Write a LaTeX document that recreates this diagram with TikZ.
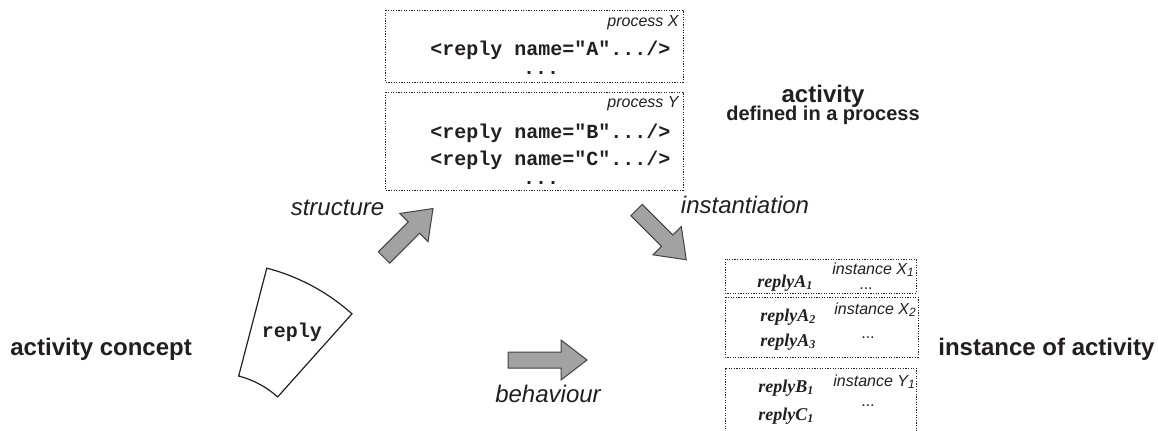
\documentclass[tikz,border=0pt]{standalone}
\usepackage{fontspec}
\setmainfont{Liberation Sans}
\newfontfamily\codefont{Liberation Mono}
\newfontfamily\rfont{Liberation Serif}
\definecolor{ink}{HTML}{231F20}
\definecolor{arrfill}{HTML}{A2A2A2}
\begin{document}
\begin{tikzpicture}[x=0.5pt,y=-0.5pt,
  every node/.style={inner sep=0pt, text=ink},
  dotbox/.style={draw=ink, line width=0.5pt, dash pattern=on 0.6pt off 0.7pt},
  blockarrow/.style={draw=ink!85, line width=0.5pt, fill=arrfill, line join=miter},
  code/.style={font=\codefont\bfseries\fontsize{10pt}{12pt}\selectfont, anchor=base west},
  codedots/.style={font=\codefont\bfseries\fontsize{10pt}{12pt}\selectfont, anchor=base},
  proclabel/.style={font=\itshape\fontsize{8pt}{9pt}\selectfont, anchor=base east},
  biglabel/.style={font=\bfseries\fontsize{12pt}{14pt}\selectfont},
  arrlabel/.style={font=\itshape\fontsize{12pt}{14pt}\selectfont, anchor=base},
  inst/.style={font=\rfont\bfseries\itshape\fontsize{9pt}{11pt}\selectfont, anchor=base west},
  instlabel/.style={font=\itshape\fontsize{8pt}{9pt}\selectfont, anchor=base west},
  instdots/.style={font=\fontsize{8pt}{9pt}\selectfont, anchor=base}]
\useasboundingbox (0,0) rectangle (1158,430);

% process boxes
\draw[dotbox] (385,10) rectangle (683,82);
\draw[dotbox] (385,92) rectangle (683,190);
\node[proclabel] (px) at (679,26) {process X};
\node[code] (la) at (430,55) {<reply name="A".../>};
\node[codedots] (da) at (541,74) {...};
\node[proclabel] (py) at (679,107) {process Y};
\node[code] (lb) at (430,138) {<reply name="B".../>};
\node[code] (lc) at (430,165) {<reply name="C".../>};
\node[codedots] (dc) at (541,184) {...};

% activity label
\node[biglabel, anchor=base] (act) at (823,102) {activity};
\node[font=\bfseries\fontsize{10pt}{12pt}\selectfont, anchor=base] (def) at (823,120) {defined in a process};

% side labels
\node[biglabel, anchor=base west] (concept) at (10,355) {activity concept};
\node[biglabel, anchor=base west] (instof) at (938,355) {instance of activity};

% reply sector
\draw[ink, line width=0.6pt, line join=miter]
  plot[domain=48.2:75.4, samples=40] ({215+205.5*cos(\x)}, {467-205.5*sin(\x)})
  -- plot[domain=75.4:48.2, samples=30] ({215+94*cos(\x)}, {467-94*sin(\x)}) -- cycle;
\node[font=\codefont\bfseries\fontsize{10pt}{12pt}\selectfont] (reply) at (292,332) {reply};

% block arrows
\draw[blockarrow, shift={(384,257.5)}, rotate=45]
  (0,-8) -- (42.3,-8) -- (42.3,-20) -- (69.3,0) -- (42.3,20) -- (42.3,8) -- (0,8) -- cycle;
\draw[blockarrow, shift={(636.5,210)}, rotate=-45]
  (0,-8) -- (43.4,-8) -- (43.4,-20) -- (70.4,0) -- (43.4,20) -- (43.4,8) -- (0,8) -- cycle;
\draw[blockarrow, shift={(508,360)}]
  (0,-8) -- (53,-8) -- (53,-20) -- (79,0) -- (53,20) -- (53,8) -- (0,8) -- cycle;
\node[arrlabel] (structure) at (337.5,215) {structure};
\node[arrlabel] (instantiation) at (745,213) {instantiation};
\node[arrlabel] (behaviour) at (548,402) {behaviour};

% instance boxes
\draw[dotbox] (725,259) rectangle (916,293);
\draw[dotbox] (725,297) rectangle (918,357);
\draw[dotbox] (725,432) |- (916,368) -- (916,432);
\node[inst] (ra1) at (757,287) {replyA\textsubscript{1}};
\node[instlabel] (ix1) at (832,274) {instance X\textsubscript{1}};
\node[instdots] (dx1) at (866,289) {...};
\node[inst] (ra2) at (760,321) {replyA\textsubscript{2}};
\node[inst] (ra3) at (760,346) {replyA\textsubscript{3}};
\node[instlabel] (ix2) at (834,314) {instance X\textsubscript{2}};
\node[instdots] (dx2) at (868,338) {...};
\node[inst] (rb1) at (758,392) {replyB\textsubscript{1}};
\node[inst] (rc1) at (758,420) {replyC\textsubscript{1}};
\node[instlabel] (iy1) at (833,386) {instance Y\textsubscript{1}};
\node[instdots] (dy1) at (868,406) {...};
\end{tikzpicture}
\end{document}
